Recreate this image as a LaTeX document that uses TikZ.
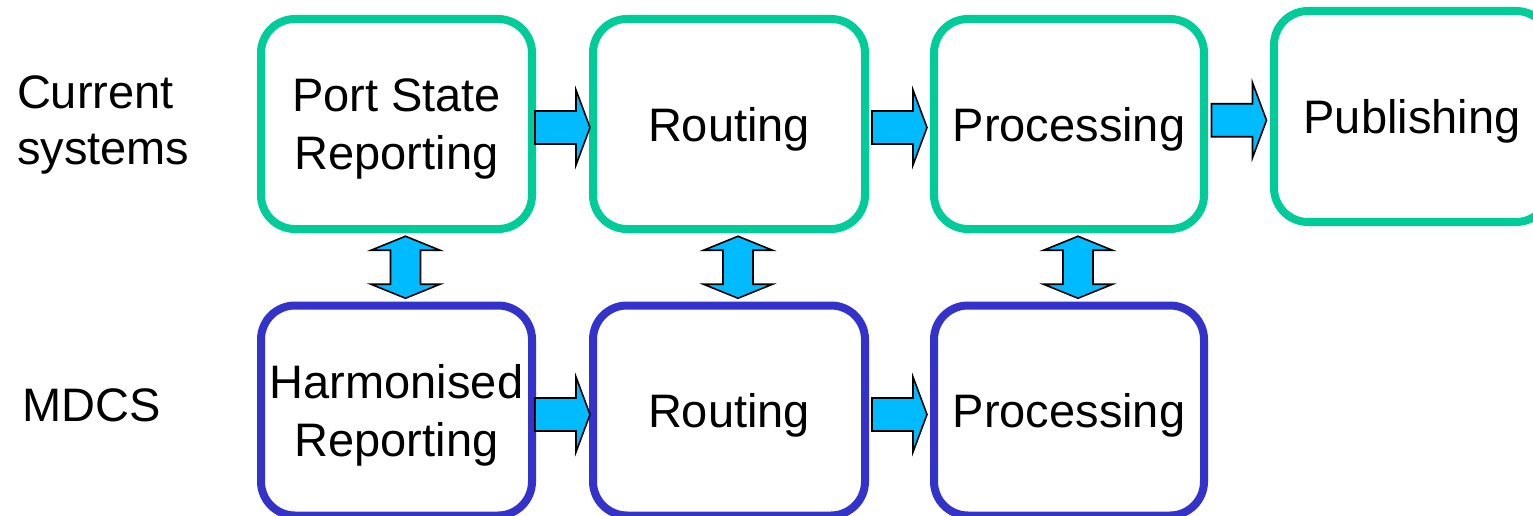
\documentclass[tikz,border=0pt]{standalone}
\usepackage{fontspec}
\setmainfont{Liberation Sans}
\usetikzlibrary{calc}

\definecolor{curgreen}{RGB}{0,204,153}
\definecolor{mdcsblue}{RGB}{51,51,204}
\definecolor{flowcyan}{RGB}{0,187,255}

\tikzset{
  stage/.style={rectangle, rounded corners=34pt, line width=8pt, fill=white,
    minimum height=210pt, inner sep=0pt, outer sep=0pt, align=center,
    text depth=0pt, font=\fontsize{47}{58}\selectfont},
  current/.style={stage, draw=curgreen, minimum width=272pt},
  harmonised/.style={stage, draw=mdcsblue, minimum width=272pt},
  rowlabel/.style={inner sep=0pt, outer sep=0pt, align=left, text depth=0pt,
    font=\fontsize{47}{55.5}\selectfont},
  blockarrow/.style={draw=black, fill=flowcyan, line width=1.6pt, line join=miter},
}

% block arrow pointing right, centred in the gap between two nodes
% #1 = source node, #2 = target node, #3 = vertical offset (pt, upward)
\newcommand\rightblock[3]{%
  \draw[blockarrow] let \p1=(#1.east), \p2=(#2.west),
      \n1={\x1/2+\x2/2}, \n2={\y1/2+\y2/2+#3}
    in ({\n1-27.5pt},{\n2+16.5pt}) -- ({\n1+13.5pt},{\n2+16.5pt})
    -- ({\n1+13.5pt},{\n2+37.5pt}) -- ({\n1+27.5pt},{\n2})
    -- ({\n1+13.5pt},{\n2-37.5pt}) -- ({\n1+13.5pt},{\n2-16.5pt})
    -- ({\n1-27.5pt},{\n2-16.5pt}) -- cycle;}

% two-headed vertical block arrow between an upper and a lower node
\newcommand\updownblock[2]{%
  \draw[blockarrow] let \p1=(#1.south), \p2=(#2.north),
      \n1={\x1/2+\x2/2+9pt}, \n2={\y1/2+\y2/2}
    in ({\n1},{\n2+31pt}) -- ({\n1+34.5pt},{\n2+17pt})
    -- ({\n1+15pt},{\n2+17pt}) -- ({\n1+15pt},{\n2-17pt})
    -- ({\n1+34.5pt},{\n2-17pt}) -- ({\n1},{\n2-31pt})
    -- ({\n1-34.5pt},{\n2-17pt}) -- ({\n1-15pt},{\n2-17pt})
    -- ({\n1-15pt},{\n2+17pt}) -- ({\n1-34.5pt},{\n2+17pt}) -- cycle;}

\begin{document}
\begin{tikzpicture}[x=1pt, y=-1pt]
  \useasboundingbox (0,0) rectangle (1533,516);

  % row labels
  \node[rowlabel, anchor=west] (lcur) at (17,120) {Current\\systems};
  \node[rowlabel, anchor=base west] (lmdcs) at (22.5,421) {MDCS};

  % current systems chain
  \node[current, minimum width=271pt] (psr) at (396.5,124) {Port State\\Reporting};
  \node[current] (rout1) at (729,124) {Routing};
  \node[current, minimum width=270pt] (proc1) at (1069,124) {Processing};
  \node[current, minimum width=276pt, minimum height=211pt] (publ) at (1412,116.5) {Publishing};

  % MDCS chain
  \node[harmonised, minimum width=271pt] (hrep) at (396.5,410.5) {Harmonised\\Reporting};
  \node[harmonised] (rout2) at (729,410.5) {Routing};
  \node[harmonised, minimum width=270pt] (proc2) at (1069,410.5) {Processing};

  % flow along each chain
  \rightblock{psr}{rout1}{-3.5pt}
  \rightblock{rout1}{proc1}{-3.5pt}
  \rightblock{proc1}{publ}{0pt}
  \rightblock{hrep}{rout2}{-4pt}
  \rightblock{rout2}{proc2}{-4pt}

  % correspondence between the two chains
  \updownblock{psr}{hrep}
  \updownblock{rout1}{rout2}
  \updownblock{proc1}{proc2}
\end{tikzpicture}
\end{document}
